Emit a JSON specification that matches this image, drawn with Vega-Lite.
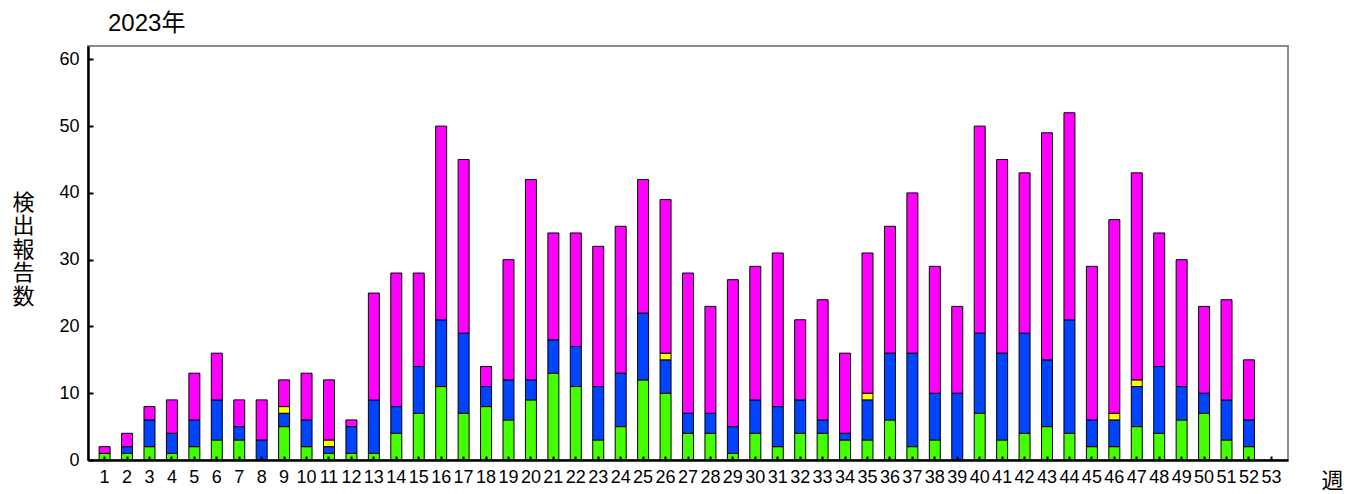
{
  "$schema": "https://vega.github.io/schema/vega-lite/v6.json",
  "width": 1200,
  "height": 414,
  "autosize": "none",
  "padding": {"left": 88, "top": 46, "right": 64, "bottom": 34},
  "background": "white",
  "config": {
    "font": "Liberation Sans, Noto Sans CJK JP",
    "view": {"stroke": "#8c8c8c", "strokeWidth": 2}
  },
  "title": {"text": "2023年", "anchor": "start", "frame": "group", "dx": 20, "offset": 10, "fontSize": 24, "fontWeight": "normal", "color": "black", "font": "Liberation Sans, Noto Sans CJK JP"},
  "data": {
    "values": [
      {"w":1,"c":"A","v":1},{"w":1,"c":"D","v":1},
      {"w":2,"c":"A","v":1},{"w":2,"c":"B","v":1},{"w":2,"c":"D","v":2},
      {"w":3,"c":"A","v":2},{"w":3,"c":"B","v":4},{"w":3,"c":"D","v":2},
      {"w":4,"c":"A","v":1},{"w":4,"c":"B","v":3},{"w":4,"c":"D","v":5},
      {"w":5,"c":"A","v":2},{"w":5,"c":"B","v":4},{"w":5,"c":"D","v":7},
      {"w":6,"c":"A","v":3},{"w":6,"c":"B","v":6},{"w":6,"c":"D","v":7},
      {"w":7,"c":"A","v":3},{"w":7,"c":"B","v":2},{"w":7,"c":"D","v":4},
      {"w":8,"c":"B","v":3},{"w":8,"c":"D","v":6},
      {"w":9,"c":"A","v":5},{"w":9,"c":"B","v":2},{"w":9,"c":"C","v":1},{"w":9,"c":"D","v":4},
      {"w":10,"c":"A","v":2},{"w":10,"c":"B","v":4},{"w":10,"c":"D","v":7},
      {"w":11,"c":"A","v":1},{"w":11,"c":"B","v":1},{"w":11,"c":"C","v":1},{"w":11,"c":"D","v":9},
      {"w":12,"c":"A","v":1},{"w":12,"c":"B","v":4},{"w":12,"c":"D","v":1},
      {"w":13,"c":"A","v":1},{"w":13,"c":"B","v":8},{"w":13,"c":"D","v":16},
      {"w":14,"c":"A","v":4},{"w":14,"c":"B","v":4},{"w":14,"c":"D","v":20},
      {"w":15,"c":"A","v":7},{"w":15,"c":"B","v":7},{"w":15,"c":"D","v":14},
      {"w":16,"c":"A","v":11},{"w":16,"c":"B","v":10},{"w":16,"c":"D","v":29},
      {"w":17,"c":"A","v":7},{"w":17,"c":"B","v":12},{"w":17,"c":"D","v":26},
      {"w":18,"c":"A","v":8},{"w":18,"c":"B","v":3},{"w":18,"c":"D","v":3},
      {"w":19,"c":"A","v":6},{"w":19,"c":"B","v":6},{"w":19,"c":"D","v":18},
      {"w":20,"c":"A","v":9},{"w":20,"c":"B","v":3},{"w":20,"c":"D","v":30},
      {"w":21,"c":"A","v":13},{"w":21,"c":"B","v":5},{"w":21,"c":"D","v":16},
      {"w":22,"c":"A","v":11},{"w":22,"c":"B","v":6},{"w":22,"c":"D","v":17},
      {"w":23,"c":"A","v":3},{"w":23,"c":"B","v":8},{"w":23,"c":"D","v":21},
      {"w":24,"c":"A","v":5},{"w":24,"c":"B","v":8},{"w":24,"c":"D","v":22},
      {"w":25,"c":"A","v":12},{"w":25,"c":"B","v":10},{"w":25,"c":"D","v":20},
      {"w":26,"c":"A","v":10},{"w":26,"c":"B","v":5},{"w":26,"c":"C","v":1},{"w":26,"c":"D","v":23},
      {"w":27,"c":"A","v":4},{"w":27,"c":"B","v":3},{"w":27,"c":"D","v":21},
      {"w":28,"c":"A","v":4},{"w":28,"c":"B","v":3},{"w":28,"c":"D","v":16},
      {"w":29,"c":"A","v":1},{"w":29,"c":"B","v":4},{"w":29,"c":"D","v":22},
      {"w":30,"c":"A","v":4},{"w":30,"c":"B","v":5},{"w":30,"c":"D","v":20},
      {"w":31,"c":"A","v":2},{"w":31,"c":"B","v":6},{"w":31,"c":"D","v":23},
      {"w":32,"c":"A","v":4},{"w":32,"c":"B","v":5},{"w":32,"c":"D","v":12},
      {"w":33,"c":"A","v":4},{"w":33,"c":"B","v":2},{"w":33,"c":"D","v":18},
      {"w":34,"c":"A","v":3},{"w":34,"c":"B","v":1},{"w":34,"c":"D","v":12},
      {"w":35,"c":"A","v":3},{"w":35,"c":"B","v":6},{"w":35,"c":"C","v":1},{"w":35,"c":"D","v":21},
      {"w":36,"c":"A","v":6},{"w":36,"c":"B","v":10},{"w":36,"c":"D","v":19},
      {"w":37,"c":"A","v":2},{"w":37,"c":"B","v":14},{"w":37,"c":"D","v":24},
      {"w":38,"c":"A","v":3},{"w":38,"c":"B","v":7},{"w":38,"c":"D","v":19},
      {"w":39,"c":"B","v":10},{"w":39,"c":"D","v":13},
      {"w":40,"c":"A","v":7},{"w":40,"c":"B","v":12},{"w":40,"c":"D","v":31},
      {"w":41,"c":"A","v":3},{"w":41,"c":"B","v":13},{"w":41,"c":"D","v":29},
      {"w":42,"c":"A","v":4},{"w":42,"c":"B","v":15},{"w":42,"c":"D","v":24},
      {"w":43,"c":"A","v":5},{"w":43,"c":"B","v":10},{"w":43,"c":"D","v":34},
      {"w":44,"c":"A","v":4},{"w":44,"c":"B","v":17},{"w":44,"c":"D","v":31},
      {"w":45,"c":"A","v":2},{"w":45,"c":"B","v":4},{"w":45,"c":"D","v":23},
      {"w":46,"c":"A","v":2},{"w":46,"c":"B","v":4},{"w":46,"c":"C","v":1},{"w":46,"c":"D","v":29},
      {"w":47,"c":"A","v":5},{"w":47,"c":"B","v":6},{"w":47,"c":"C","v":1},{"w":47,"c":"D","v":31},
      {"w":48,"c":"A","v":4},{"w":48,"c":"B","v":10},{"w":48,"c":"D","v":20},
      {"w":49,"c":"A","v":6},{"w":49,"c":"B","v":5},{"w":49,"c":"D","v":19},
      {"w":50,"c":"A","v":7},{"w":50,"c":"B","v":3},{"w":50,"c":"D","v":13},
      {"w":51,"c":"A","v":3},{"w":51,"c":"B","v":6},{"w":51,"c":"D","v":15},
      {"w":52,"c":"A","v":2},{"w":52,"c":"B","v":4},{"w":52,"c":"D","v":9}
    ]
  },
  "mark": {"type": "bar", "stroke": "black", "strokeWidth": 1},
  "encoding": {
    "x": {
      "field": "w", "type": "ordinal",
      "scale": {"domain": [1,2,3,4,5,6,7,8,9,10,11,12,13,14,15,16,17,18,19,20,21,22,23,24,25,26,27,28,29,30,31,32,33,34,35,36,37,38,39,40,41,42,43,44,45,46,47,48,49,50,51,52,53], "paddingInner": 0.51, "paddingOuter": 0.495},
      "axis": {
        "title": "週", "titleFontSize": 22, "titleFontWeight": "normal", "titleColor": "black",
        "titleX": 1244, "titleY": 10, "titleBaseline": "top", "titleAlign": "center", "titleAnchor": null,
        "labelAngle": 0, "labelFontSize": 18, "labelColor": "black", "labelPadding": 12,
        "tickSize": -4, "tickColor": "black", "tickWidth": 2,
        "domainColor": "black", "domainWidth": 2.5,
        "zindex": 1, "grid": false
      }
    },
    "y": {
      "field": "v", "type": "quantitative", "stack": "zero",
      "scale": {"domain": [0, 62], "nice": false},
      "axis": {
        "title": ["検","出","報","告","数"], "titleAngle": 0, "titleFontSize": 22, "titleFontWeight": "normal",
        "titleColor": "black", "titleLineHeight": 23.5, "titleX": -65, "titleY": 146, "titleBaseline": "top", "titleAlign": "center",
        "values": [0,10,20,30,40,50,60],
        "labelFontSize": 18, "labelColor": "black", "labelPadding": 14,
        "tickSize": -5, "tickColor": "black", "tickWidth": 2,
        "domainColor": "black", "domainWidth": 2.5,
        "zindex": 1, "grid": false
      }
    },
    "color": {
      "field": "c", "type": "nominal",
      "scale": {"domain": ["A","B","C","D"], "range": ["#44ff00","#0044ff","#ffff00","#ff00ff"]},
      "legend": null
    },
    "order": {"field": "c", "sort": "ascending"}
  }
}
